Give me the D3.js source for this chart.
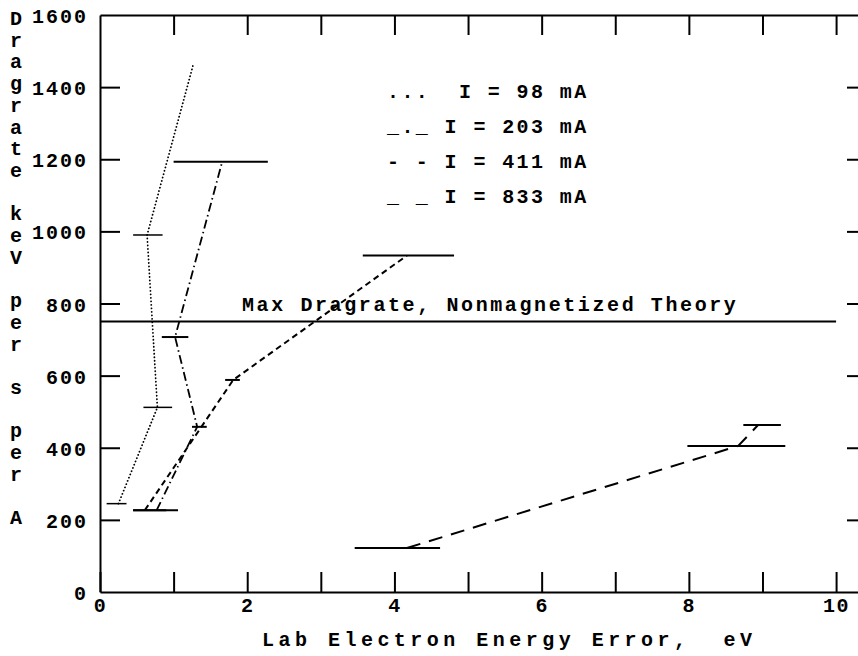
<!DOCTYPE html>
<meta charset="utf-8">

<style>
 body { margin: 0; background: #fff; }
 text { font-family: "Liberation Mono", "DejaVu Sans Mono", monospace; font-weight: bold; fill: #000; }
</style>

<body>
	<svg></svg>
	<script src="https://cdn.jsdelivr.net/npm/d3@7/dist/d3.min.js"></script>
	<script>

		// data -------------------------------------------------------------
		var xTicks = [0, 1, 2, 3, 4, 5, 6, 7, 8, 9, 10];
		var xLabels = [0, 2, 4, 6, 8, 10];
		var yTicks = [0, 200, 400, 600, 800, 1000, 1200, 1400, 1600];

		// I = 98 mA (dotted)
		var i98x  = [0.25, 0.78, 0.64, 1.27];
		var i98y  = [245, 512, 990, 1465];
		var i98lo = [0.09, 0.59, 0.45, null];
		var i98hi = [0.36, 0.98, 0.85, null];

		// I = 203 mA (dash dot)
		var i203x  = [0.77, 1.32, 1.02, 1.66];
		var i203y  = [227, 458, 707, 1193];
		var i203lo = [0.45, 1.25, 0.84, 1.00];
		var i203hi = [1.06, 1.45, 1.20, 2.28];

		// I = 411 mA (short dash)
		var i411x  = [0.61, 1.81, 4.17];
		var i411y  = [227, 588, 933];
		var i411lo = [0.45, 1.70, 3.57];
		var i411hi = [0.90, 1.90, 4.81];

		// I = 833 mA (long dash)
		var i833x  = [4.17, 8.67, 8.94];
		var i833y  = [122, 405, 463];
		var i833lo = [3.46, 7.98, 8.74];
		var i833hi = [4.62, 9.31, 9.25];

		var theoryY = 750;
		var theoryX = [0, 10];
		var theoryText = "Max Dragrate, Nonmagnetized Theory";

		var legendRows = ["...  I = 98 mA", "_._ I = 203 mA", "- - I = 411 mA", "_ _ I = 833 mA"];
		var yTitle = "Dragrate keV per s per A";
		var xTitle = "Lab Electron Energy Error,  eV";

		// svg setup ---------------------------------------------------------
		var width = 858, height = 656;
		var svg = d3.select("svg")
				.attr("width", width)
				.attr("height", height);

		var x = d3.scaleLinear().domain([0, 10.42]).range([100, 867]);
		var y = d3.scaleLinear().domain([0, 1600]).range([592, 15]);

		// AXES / FRAME -------------------------------------------------------
		function styleAxis(g)
		{
			g.select(".domain").attr("stroke", "#000").attr("stroke-width", 2);
			g.selectAll(".tick line").attr("stroke", "#000").attr("stroke-width", 2);
			g.selectAll("text").attr("font-size", 20).attr("fill", "#000")
			 .style("letter-spacing", "1.5px");
		}

		svg.append("g")
		   .attr("transform", "translate(0," + y(0) + ")")
		   .call(d3.axisBottom(x).tickValues(xTicks).tickSizeInner(-20).tickSizeOuter(0)
		   		.tickPadding(6)
		   		.tickFormat(function(d){ return xLabels.includes(d) ? d : ""; }))
		   .call(styleAxis)
		   .selectAll("text").attr("font-family", null);

		svg.append("g")
		   .attr("transform", "translate(0," + y(1600) + ")")
		   .call(d3.axisTop(x).tickValues(xTicks.slice(1)).tickSizeInner(-20).tickSizeOuter(0)
		   		.tickFormat(""))
		   .call(styleAxis);

		svg.append("g")
		   .attr("transform", "translate(" + x(0) + ",0)")
		   .call(d3.axisLeft(y).tickValues(yTicks.slice(1, -1)).tickSizeInner(-20).tickSizeOuter(0)
		   		.tickFormat(""))
		   .call(styleAxis);

		svg.append("g")
		   .attr("transform", "translate(" + x(10.42) + ",0)")
		   .call(d3.axisRight(y).tickValues(yTicks.slice(1, -1)).tickSizeInner(-20).tickSizeOuter(0)
		   		.tickFormat(""))
		   .call(styleAxis);

		// y tick labels (sit a little off the left axis)
		svg.selectAll(".ylab")
		   .data(yTicks)
		   .enter()
		   .append("text")
		   .attr("class", "ylab")
		   .attr("x", 88)
		   .attr("y", function(d){ return y(d) + 8; })
		   .attr("text-anchor", "end")
		   .attr("font-size", 20)
		   .style("letter-spacing", "2px")
		   .text(function(d){ return d; });

		// vertical y title, one letter per line
		var ty = 25;
		yTitle.split("").forEach(function(c)
		{
			if(c != " ")
				svg.append("text")
				   .attr("x", 16)
				   .attr("y", ty)
				   .attr("text-anchor", "middle")
				   .attr("font-size", 20)
				   .text(c);
			ty += 21.7;
		});

		svg.append("text")
		   .attr("x", 262)
		   .attr("y", 646)
		   .attr("font-size", 20)
		   .attr("xml:space", "preserve")
		   .style("white-space", "pre")
		   .attr("textLength", 490)
		   .attr("lengthAdjust", "spacing")
		   .text(xTitle);

		// THEORY LINE --------------------------------------------------------
		svg.append("line")
		   .attr("x1", x(theoryX[0])).attr("x2", x(theoryX[1]))
		   .attr("y1", y(theoryY)).attr("y2", y(theoryY))
		   .attr("stroke", "#000").attr("stroke-width", 2);

		svg.append("text")
		   .attr("x", 242)
		   .attr("y", 311)
		   .attr("font-size", 20)
		   .style("letter-spacing", "2.6px")
		   .text(theoryText);

		// SERIES -------------------------------------------------------------
		var line = d3.line()
				.x(function(d){ return x(d[0]); })
				.y(function(d){ return y(d[1]); });

		function drawSeries(xs, ys, los, his, dash, lw, barW)
		{
			var pts = xs.map(function(v, i){ return [v, ys[i]]; });

			svg.append("path")
			   .datum(pts)
			   .attr("d", line)
			   .attr("fill", "none")
			   .attr("stroke", "#000")
			   .attr("stroke-width", lw)
			   .attr("stroke-dasharray", dash)
			   .attr("stroke-linecap", dash == "0.1,3.4" ? "round" : "butt");

			// horizontal error bars
			for(var i=0; i<xs.length; i++)
			{
				if(los[i] == null) continue;
				svg.append("line")
				   .attr("x1", x(los[i])).attr("x2", x(his[i]))
				   .attr("y1", y(ys[i])).attr("y2", y(ys[i]))
				   .attr("stroke", "#000")
				   .attr("stroke-width", barW);
			}
		}

		drawSeries(i98x, i98y, i98lo, i98hi, "0.1,3.4", 1.8, 1.5);
		drawSeries(i203x, i203y, i203lo, i203hi, "9,3.5,1.5,3.5", 1.8, 2);
		drawSeries(i411x, i411y, i411lo, i411hi, "6,4", 2, 2);
		drawSeries(i833x, i833y, i833lo, i833hi, "14,9", 2, 2);

		// LEGEND (typed as text, like the original) --------------------------
		svg.selectAll(".leg")
		   .data(legendRows)
		   .enter()
		   .append("text")
		   .attr("class", "leg")
		   .attr("x", 387)
		   .attr("y", function(d, i){ return 98 + i*35; })
		   .attr("font-size", 20)
		   .attr("xml:space", "preserve")
		   .style("white-space", "pre")
		   .style("letter-spacing", "2.4px")
		   .text(function(d){ return d; });

	</script>
</body>
</html>
